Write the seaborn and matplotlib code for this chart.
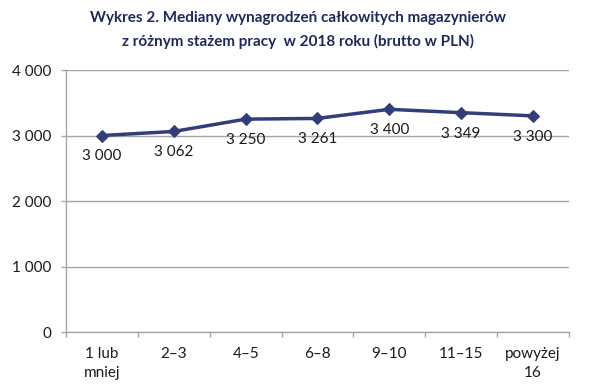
import numpy as np
import pandas as pd
import seaborn as sns
import matplotlib
import matplotlib.pyplot as plt

categories = ["1 lub\nmniej", "2\u20133", "4\u20135", "6\u20138", "9\u201310", "11\u201315", "powy\u017cej\n16"]
values = [3000, 3062, 3250, 3261, 3400, 3349, 3300]
value_labels = ["3 000", "3 062", "3 250", "3 261", "3 400", "3 349", "3 300"]
yticks = [0, 1000, 2000, 3000, 4000]
ytick_labels = ["0", "1 000", "2 000", "3 000", "4 000"]

sns.set_theme()
sns.set_style("white")
plt.rcParams['font.family'] = ['Lato', 'DejaVu Sans']

line_color = "#333d7a"
grid_color = "#a6a6a6"
text_color = "#1a1a1a"

df = pd.DataFrame({"pos": np.arange(len(categories)), "value": values})

fig = plt.figure(figsize=(5.89, 3.89), dpi=100)
ax = fig.add_axes([0.112, 0.1465, 0.854, 0.6735])

sns.lineplot(data=df, x="pos", y="value", marker="D", markersize=6,
             color=line_color, linewidth=2.5, markeredgecolor=line_color, ax=ax)

for x, y, lab in zip(df["pos"], values, value_labels):
    ax.annotate(lab, (x, y), xytext=(0, -10), textcoords="offset points",
                ha="center", va="top", fontsize=11, color=text_color)

ax.set_xlim(-0.5, len(categories) - 0.5)
ax.set_ylim(0, 4000)
ax.set_yticks(yticks)
ax.set_yticklabels(ytick_labels)
ax.set_xticks(df["pos"])
ax.set_xticklabels(categories, linespacing=1.4)
ax.set_xticks(np.arange(-0.5, len(categories)), minor=True)
ax.tick_params(axis="x", which="major", length=0, pad=11, labelsize=11, labelcolor=text_color)
ax.tick_params(axis="x", which="minor", length=3.5, width=1, color=grid_color, direction="out", bottom=True)
ax.tick_params(axis="y", length=3.5, width=1, color=grid_color, direction="out", left=True,
               labelsize=11, labelcolor=text_color, pad=7)
ax.set_xlabel("")
ax.set_ylabel("")

ax.yaxis.grid(True, color=grid_color, linewidth=1)
ax.set_axisbelow(True)
for side in ["top", "right"]:
    ax.spines[side].set_visible(False)
for side in ["left", "bottom"]:
    ax.spines[side].set_color(grid_color)
    ax.spines[side].set_linewidth(1)

fig.text(0.506, 0.972, "Wykres 2. Mediany wynagrodze\u0144 ca\u0142kowitych magazynier\u00f3w\nz r\u00f3\u017cnym sta\u017cem pracy  w 2018 roku (brutto w PLN)",
         ha="center", va="top", fontsize=11, fontweight="bold", color="#1f2a5c", linespacing=1.75)

fig.savefig("out.png", dpi=100)
